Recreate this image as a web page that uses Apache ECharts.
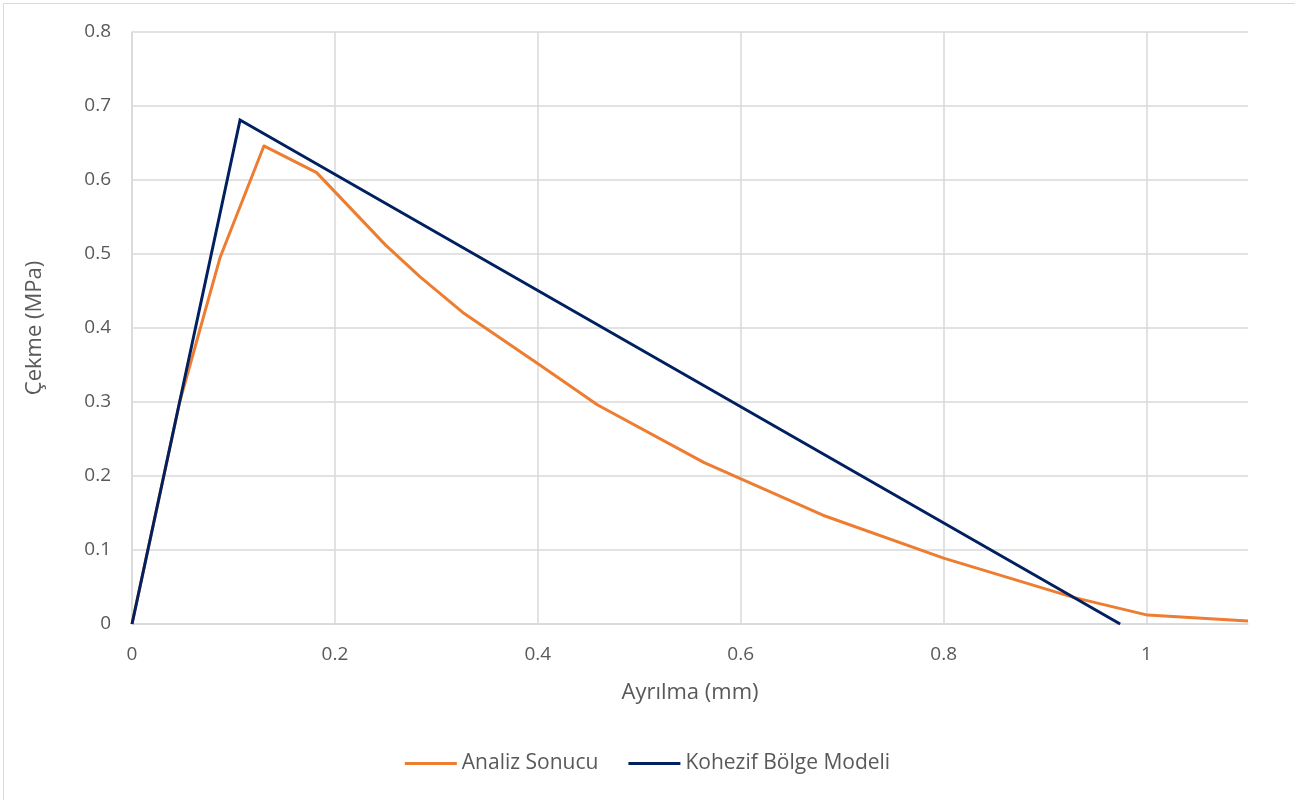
<!DOCTYPE html>
<html>
<head>
<meta charset="utf-8">
<script src="https://cdn.jsdelivr.net/npm/echarts@6/dist/echarts.min.js"></script>
<style>
html,body{margin:0;padding:0;background:#fff;}
#c{width:1295px;height:800px;}
</style>
</head>
<body>
<div id="c"></div>
<script>
// Data
const analizX = [0, 0.047, 0.087, 0.13, 0.182, 0.25, 0.284, 0.326, 0.402, 0.459, 0.564, 0.681, 0.800, 0.928, 1.001, 1.1];
const analizY = [0, 0.300, 0.496, 0.646, 0.610, 0.512, 0.469, 0.421, 0.350, 0.296, 0.218, 0.147, 0.089, 0.036, 0.012, 0.004];
const kohezifX = [0, 0.1065, 0.974];
const kohezifY = [0, 0.681, 0];
const xTicks = [0, 0.2, 0.4, 0.6, 0.8, 1.0];
const seriesNames = ['Analiz Sonucu', 'Kohezif Bölge Modeli'];
const xTitle = 'Ayrılma (mm)';
const yTitle = 'Çekme (MPa)';

const pairs = (xs, ys) => xs.map((x, i) => [x, ys[i]]);
const font = '"Open Sans", "Liberation Sans", sans-serif';
const txt = '#595959';

const chart = echarts.init(document.getElementById('c'), null, {renderer: 'canvas'});
chart.setOption({
  animation: false,
  backgroundColor: '#fff',
  graphic: [{
    type: 'rect', left: 1, top: 1,
    shape: {width: 1292, height: 797},
    style: {fill: 'none', stroke: '#d9d9d9', lineWidth: 1}
  }],
  grid: {left: 132, right: 47, top: 32, bottom: 176},
  xAxis: {
    type: 'value', min: 0, max: 1.1, interval: 0.2,
    name: xTitle, nameLocation: 'middle', nameGap: 58,
    nameTextStyle: {color: txt, fontSize: 22, fontFamily: font},
    axisLine: {show: true, lineStyle: {color: '#d9d9d9', width: 1.5}},
    axisTick: {show: false, customValues: xTicks},
    axisLabel: {color: txt, fontSize: 19, fontFamily: font, margin: 21, customValues: xTicks,
      formatter: v => String(+v.toFixed(2))},
    splitLine: {show: true, lineStyle: {color: '#d9d9d9', width: 1.5}}
  },
  yAxis: {
    type: 'value', min: 0, max: 0.8, interval: 0.1,
    name: yTitle, nameLocation: 'middle', nameGap: 86, nameRotate: 90,
    nameTextStyle: {color: txt, fontSize: 22, fontFamily: font},
    axisLine: {show: true, lineStyle: {color: '#d9d9d9', width: 1.5}},
    axisTick: {show: false},
    axisLabel: {color: txt, fontSize: 19, fontFamily: font, margin: 21,
      formatter: v => String(+v.toFixed(2))},
    splitLine: {show: true, lineStyle: {color: '#d9d9d9', width: 1.5}}
  },
  legend: {
    bottom: 21, left: 'center',
    icon: 'rect', itemWidth: 52, itemHeight: 3, itemGap: 30,
    textStyle: {color: txt, fontSize: 21, fontFamily: font},
    data: seriesNames
  },
  series: [
    {
      name: seriesNames[0], type: 'line', data: pairs(analizX, analizY),
      showSymbol: false, symbol: 'none',
      lineStyle: {color: '#ED7D31', width: 3, join: 'round'},
      itemStyle: {color: '#ED7D31'}
    },
    {
      name: seriesNames[1], type: 'line', data: pairs(kohezifX, kohezifY),
      showSymbol: false, symbol: 'none',
      lineStyle: {color: '#002060', width: 3, join: 'miter'},
      itemStyle: {color: '#002060'}
    }
  ]
});
</script>
</body>
</html>
